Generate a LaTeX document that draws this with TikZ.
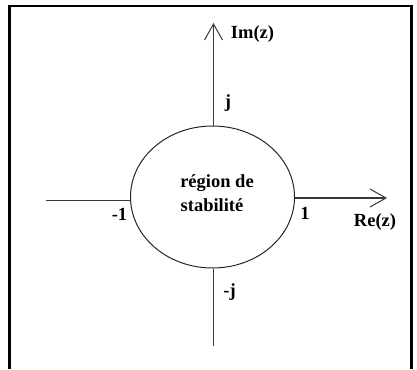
\documentclass[tikz,border=0pt]{standalone}
\usepackage{fontspec}
\setmainfont{Liberation Serif}
\usetikzlibrary{arrows.meta,shapes.geometric}
\begin{document}
\begin{tikzpicture}[x=1pt,y=-1pt,
  lbl/.style={font=\fontsize{18.5}{21}\selectfont\bfseries, inner sep=0pt, text=black},
  axis/.style={draw=black!78, line width=1.5pt},
  tip/.style={-{Straight Barb[length=16pt,width=18pt,line width=1pt]}}]
\useasboundingbox (0,0) rectangle (417,369);
% frame
\draw[line width=2.5pt, black] (9.3,369) -- (9.3,6) -- (411.3,6) -- (411.3,369);
% stability region
\node[ellipse, draw=black!85, line width=1pt, minimum width=164pt, minimum height=142pt, inner sep=0pt] (c) at (212.5,197) {};
% axis ends
\coordinate (top) at (213.5,23);
\coordinate (bot) at (213.5,346);
\coordinate (lft) at (46,200.5);
\coordinate (rgt) at (387,198);
\draw[axis,tip] (c.north -| top) -- (top);
\draw[axis] (c.south -| bot) -- (bot);
\draw[axis] (lft) -- (lft -| c.west);
\draw[axis,tip] (rgt -| c.east) -- (rgt);
% labels
\node[lbl] (im) at (252.5,34) {Im(z)};
\node[lbl] (j) at (228,103) {j};
\node[lbl] (m1) at (119.5,214.5) {-1};
\node[lbl] (p1) at (305,213.5) {1};
\node[lbl] (re) at (375,222) {Re(z)};
\node[lbl] (mj) at (229.5,292.5) {-j};
\node[lbl] (r1) at (217,183) {région de};
\node[lbl] (r2) at (212,205) {stabilité};
\end{tikzpicture}
\end{document}
